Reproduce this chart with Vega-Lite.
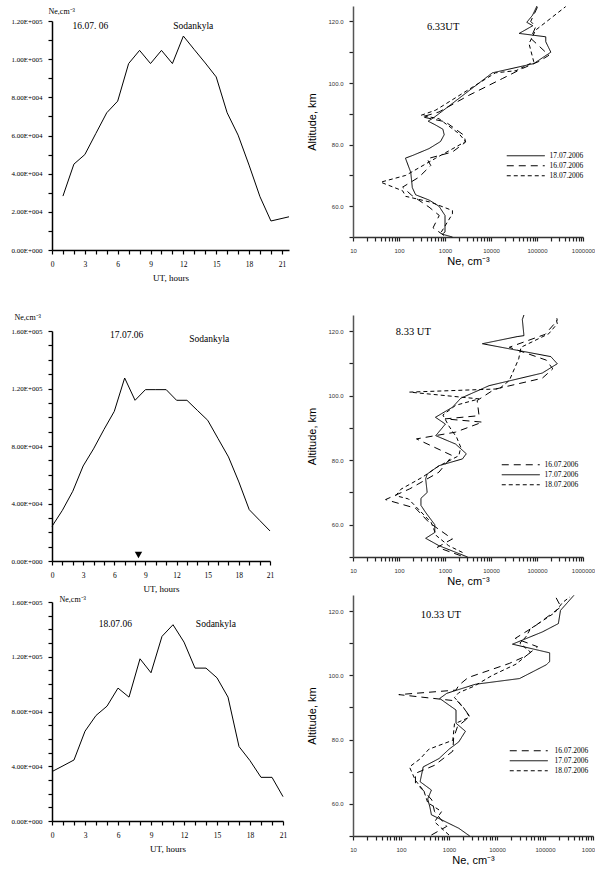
{
"$schema":"https://vega.github.io/schema/vega-lite/v6.json",
"padding":{"left":11,"top":4,"right":0,"bottom":0},
"spacing":15,
"datasets":{
"l16":[{"ut":1,"ne":28250},{"ut":2,"ne":45000},{"ut":3,"ne":50000},{"ut":4,"ne":61000},{"ut":5,"ne":71900},{"ut":6,"ne":78000},{"ut":7,"ne":97700},{"ut":8,"ne":104600},{"ut":9,"ne":97700},{"ut":10,"ne":104600},{"ut":11,"ne":97700},{"ut":12,"ne":112100},{"ut":13,"ne":105000},{"ut":14,"ne":98000},{"ut":15,"ne":90700},{"ut":16,"ne":71900},{"ut":17,"ne":60200},{"ut":18,"ne":44500},{"ut":19,"ne":27900},{"ut":20,"ne":15200},{"ut":21.65,"ne":17400}],
"l17":[{"ut":0,"ne":24100},{"ut":1,"ne":35250},{"ut":2,"ne":48500},{"ut":3,"ne":66100},{"ut":4,"ne":78000},{"ut":5,"ne":91400},{"ut":6,"ne":104100},{"ut":7,"ne":127300},{"ut":8,"ne":111800},{"ut":9,"ne":119200},{"ut":10,"ne":119200},{"ut":11,"ne":119200},{"ut":12,"ne":111800},{"ut":13,"ne":111800},{"ut":14,"ne":104800},{"ut":15,"ne":97900},{"ut":16,"ne":85100},{"ut":17,"ne":72400},{"ut":18,"ne":55000},{"ut":19,"ne":35700},{"ut":20,"ne":28300},{"ut":21,"ne":20900}],
"l18":[{"ut":0,"ne":36100},{"ut":1,"ne":40300},{"ut":2,"ne":44600},{"ut":3,"ne":65600},{"ut":4,"ne":77100},{"ut":5,"ne":83900},{"ut":6,"ne":97100},{"ut":7,"ne":90500},{"ut":8,"ne":118500},{"ut":9,"ne":108300},{"ut":10,"ne":134900},{"ut":11,"ne":143400},{"ut":12,"ne":130700},{"ut":13,"ne":111700},{"ut":14,"ne":111700},{"ut":15,"ne":104600},{"ut":16,"ne":90500},{"ut":17,"ne":54400},{"ut":18,"ne":44100},{"ut":19,"ne":31900},{"ut":20,"ne":31900},{"ut":21,"ne":17800}],
"r1":[
{"d":"17.07.2006","alt":50,"ne":1450},{"d":"17.07.2006","alt":50.9,"ne":870},{"d":"17.07.2006","alt":51.6,"ne":1000},{"d":"17.07.2006","alt":57,"ne":1000},{"d":"17.07.2006","alt":60,"ne":740},{"d":"17.07.2006","alt":62,"ne":450},{"d":"17.07.2006","alt":63.7,"ne":230},{"d":"17.07.2006","alt":66,"ne":195},{"d":"17.07.2006","alt":71,"ne":180},{"d":"17.07.2006","alt":75.6,"ne":138},{"d":"17.07.2006","alt":76.5,"ne":200},{"d":"17.07.2006","alt":78.7,"ne":450},{"d":"17.07.2006","alt":81,"ne":800},{"d":"17.07.2006","alt":83.2,"ne":960},{"d":"17.07.2006","alt":85,"ne":900},{"d":"17.07.2006","alt":86.5,"ne":600},{"d":"17.07.2006","alt":87.6,"ne":430},{"d":"17.07.2006","alt":89,"ne":600},{"d":"17.07.2006","alt":103.3,"ne":10700},{"d":"17.07.2006","alt":106.3,"ne":85000},{"d":"17.07.2006","alt":110,"ne":200000},{"d":"17.07.2006","alt":113.4,"ne":155000},{"d":"17.07.2006","alt":115,"ne":155000},{"d":"17.07.2006","alt":116.1,"ne":41000},{"d":"17.07.2006","alt":118.6,"ne":81000},{"d":"17.07.2006","alt":119.7,"ne":60000},{"d":"17.07.2006","alt":122,"ne":80000},{"d":"17.07.2006","alt":125,"ne":100000},
{"d":"16.07.2006","alt":50.5,"ne":950},{"d":"16.07.2006","alt":53,"ne":550},{"d":"16.07.2006","alt":57,"ne":750},{"d":"16.07.2006","alt":59.7,"ne":450},{"d":"16.07.2006","alt":63.5,"ne":190},{"d":"16.07.2006","alt":66.2,"ne":120},{"d":"16.07.2006","alt":69.4,"ne":270},{"d":"16.07.2006","alt":73.2,"ne":490},{"d":"16.07.2006","alt":75.4,"ne":410},{"d":"16.07.2006","alt":77.6,"ne":1450},{"d":"16.07.2006","alt":80.8,"ne":2800},{"d":"16.07.2006","alt":83,"ne":2600},{"d":"16.07.2006","alt":87.4,"ne":1020},{"d":"16.07.2006","alt":89,"ne":320},{"d":"16.07.2006","alt":90.6,"ne":740},{"d":"16.07.2006","alt":96,"ne":3300},{"d":"16.07.2006","alt":101.5,"ne":18000},{"d":"16.07.2006","alt":104.7,"ne":48000},{"d":"16.07.2006","alt":107,"ne":110000},{"d":"16.07.2006","alt":109,"ne":182000},{"d":"16.07.2006","alt":114.5,"ne":73000},{"d":"16.07.2006","alt":118.3,"ne":94000},{"d":"16.07.2006","alt":120,"ne":73000},{"d":"16.07.2006","alt":125,"ne":105000},
{"d":"18.07.2006","alt":51.6,"ne":830},{"d":"18.07.2006","alt":57.5,"ne":1450},{"d":"18.07.2006","alt":58.6,"ne":1450},{"d":"18.07.2006","alt":61.3,"ne":490},{"d":"18.07.2006","alt":63.2,"ne":140},{"d":"18.07.2006","alt":65,"ne":120},{"d":"18.07.2006","alt":67.8,"ne":40},{"d":"18.07.2006","alt":70,"ne":140},{"d":"18.07.2006","alt":75.6,"ne":630},{"d":"18.07.2006","alt":81,"ne":2800},{"d":"18.07.2006","alt":83.6,"ne":2000},{"d":"18.07.2006","alt":88.4,"ne":740},{"d":"18.07.2006","alt":89.5,"ne":300},{"d":"18.07.2006","alt":91.2,"ne":630},{"d":"18.07.2006","alt":103.3,"ne":12500},{"d":"18.07.2006","alt":104,"ne":35000},{"d":"18.07.2006","alt":106.9,"ne":85000},{"d":"18.07.2006","alt":112.8,"ne":67000},{"d":"18.07.2006","alt":117.2,"ne":94000},{"d":"18.07.2006","alt":124.8,"ne":420000}],
"r2":[
{"d":"17.07.2006","alt":50,"ne":3100},{"d":"17.07.2006","alt":53.5,"ne":740},{"d":"17.07.2006","alt":55.8,"ne":380},{"d":"17.07.2006","alt":57.6,"ne":600},{"d":"17.07.2006","alt":60,"ne":600},{"d":"17.07.2006","alt":63.8,"ne":380},{"d":"17.07.2006","alt":66,"ne":300},{"d":"17.07.2006","alt":68.2,"ne":300},{"d":"17.07.2006","alt":70,"ne":410},{"d":"17.07.2006","alt":74.2,"ne":380},{"d":"17.07.2006","alt":75.7,"ne":410},{"d":"17.07.2006","alt":78.3,"ne":740},{"d":"17.07.2006","alt":80.4,"ne":2400},{"d":"17.07.2006","alt":82,"ne":2900},{"d":"17.07.2006","alt":85,"ne":1700},{"d":"17.07.2006","alt":87.6,"ne":630},{"d":"17.07.2006","alt":91.2,"ne":1020},{"d":"17.07.2006","alt":93.3,"ne":620},{"d":"17.07.2006","alt":96.4,"ne":1450},{"d":"17.07.2006","alt":99.2,"ne":2200},{"d":"17.07.2006","alt":103.1,"ne":9100},{"d":"17.07.2006","alt":107,"ne":130000},{"d":"17.07.2006","alt":109.9,"ne":276000},{"d":"17.07.2006","alt":112.1,"ne":200000},{"d":"17.07.2006","alt":116.1,"ne":6500},{"d":"17.07.2006","alt":118.3,"ne":37000},{"d":"17.07.2006","alt":118.6,"ne":52000},{"d":"17.07.2006","alt":123.6,"ne":48000},{"d":"17.07.2006","alt":125,"ne":52000},
{"d":"16.07.2006","alt":50.4,"ne":2200},{"d":"16.07.2006","alt":53,"ne":680},{"d":"16.07.2006","alt":55.6,"ne":1450},{"d":"16.07.2006","alt":60.7,"ne":450},{"d":"16.07.2006","alt":65.1,"ne":230},{"d":"16.07.2006","alt":67.8,"ne":51},{"d":"16.07.2006","alt":71.1,"ne":170},{"d":"16.07.2006","alt":76.3,"ne":740},{"d":"16.07.2006","alt":81.4,"ne":1450},{"d":"16.07.2006","alt":86.6,"ne":240},{"d":"16.07.2006","alt":88.7,"ne":1700},{"d":"16.07.2006","alt":91.8,"ne":6500},{"d":"16.07.2006","alt":92.8,"ne":1000},{"d":"16.07.2006","alt":93.8,"ne":5500},{"d":"16.07.2006","alt":98.5,"ne":5000},{"d":"16.07.2006","alt":102,"ne":12000},{"d":"16.07.2006","alt":105.4,"ne":130000},{"d":"16.07.2006","alt":108.3,"ne":220000},{"d":"16.07.2006","alt":111,"ne":160000},{"d":"16.07.2006","alt":115,"ne":25000},{"d":"16.07.2006","alt":119,"ne":150000},{"d":"16.07.2006","alt":123.3,"ne":276000},{"d":"16.07.2006","alt":124,"ne":270000},
{"d":"18.07.2006","alt":51.4,"ne":2400},{"d":"18.07.2006","alt":53.5,"ne":1200},{"d":"18.07.2006","alt":56.6,"ne":650},{"d":"18.07.2006","alt":60.7,"ne":500},{"d":"18.07.2006","alt":64,"ne":300},{"d":"18.07.2006","alt":68,"ne":160},{"d":"18.07.2006","alt":69,"ne":85},{"d":"18.07.2006","alt":71,"ne":110},{"d":"18.07.2006","alt":74.7,"ne":320},{"d":"18.07.2006","alt":78,"ne":700},{"d":"18.07.2006","alt":81.4,"ne":2000},{"d":"18.07.2006","alt":84,"ne":2200},{"d":"18.07.2006","alt":87,"ne":1800},{"d":"18.07.2006","alt":90.7,"ne":1200},{"d":"18.07.2006","alt":94,"ne":900},{"d":"18.07.2006","alt":97,"ne":1700},{"d":"18.07.2006","alt":99,"ne":5500},{"d":"18.07.2006","alt":101.1,"ne":170},{"d":"18.07.2006","alt":102.1,"ne":15000},{"d":"18.07.2006","alt":104.7,"ne":25000},{"d":"18.07.2006","alt":111.4,"ne":40000},{"d":"18.07.2006","alt":115,"ne":45000},{"d":"18.07.2006","alt":119.2,"ne":180000},{"d":"18.07.2006","alt":122.3,"ne":276000},{"d":"18.07.2006","alt":123.8,"ne":260000}],
"r3":[
{"d":"17.07.2006","alt":50,"ne":2700},{"d":"17.07.2006","alt":52.4,"ne":1600},{"d":"17.07.2006","alt":56.6,"ne":430},{"d":"17.07.2006","alt":59,"ne":400},{"d":"17.07.2006","alt":61.5,"ne":360},{"d":"17.07.2006","alt":64.3,"ne":430},{"d":"17.07.2006","alt":66.9,"ne":250},{"d":"17.07.2006","alt":71.5,"ne":290},{"d":"17.07.2006","alt":74.1,"ne":620},{"d":"17.07.2006","alt":77,"ne":1000},{"d":"17.07.2006","alt":79.3,"ne":1600},{"d":"17.07.2006","alt":82.6,"ne":2200},{"d":"17.07.2006","alt":85.1,"ne":1400},{"d":"17.07.2006","alt":89.2,"ne":1400},{"d":"17.07.2006","alt":92.8,"ne":640},{"d":"17.07.2006","alt":94.4,"ne":900},{"d":"17.07.2006","alt":97.2,"ne":3500},{"d":"17.07.2006","alt":99,"ne":29500},{"d":"17.07.2006","alt":103.3,"ne":107000},{"d":"17.07.2006","alt":104.3,"ne":125000},{"d":"17.07.2006","alt":107,"ne":125000},{"d":"17.07.2006","alt":109.7,"ne":21000},{"d":"17.07.2006","alt":113.5,"ne":88000},{"d":"17.07.2006","alt":116.1,"ne":190000},{"d":"17.07.2006","alt":120.2,"ne":210000},{"d":"17.07.2006","alt":124.9,"ne":400000},
{"d":"16.07.2006","alt":50.3,"ne":430},{"d":"16.07.2006","alt":53,"ne":900},{"d":"16.07.2006","alt":55.5,"ne":650},{"d":"16.07.2006","alt":57.6,"ne":500},{"d":"16.07.2006","alt":61.2,"ne":440},{"d":"16.07.2006","alt":64,"ne":300},{"d":"16.07.2006","alt":66.5,"ne":200},{"d":"16.07.2006","alt":69.5,"ne":200},{"d":"16.07.2006","alt":72,"ne":500},{"d":"16.07.2006","alt":76.4,"ne":1200},{"d":"16.07.2006","alt":80.6,"ne":1250},{"d":"16.07.2006","alt":84,"ne":1500},{"d":"16.07.2006","alt":87.2,"ne":2700},{"d":"16.07.2006","alt":89.1,"ne":2200},{"d":"16.07.2006","alt":92,"ne":1500},{"d":"16.07.2006","alt":94,"ne":90},{"d":"16.07.2006","alt":95.4,"ne":1400},{"d":"16.07.2006","alt":96.9,"ne":1600},{"d":"16.07.2006","alt":99.3,"ne":2500},{"d":"16.07.2006","alt":103.7,"ne":18000},{"d":"16.07.2006","alt":106,"ne":40000},{"d":"16.07.2006","alt":108.9,"ne":70000},{"d":"16.07.2006","alt":111.5,"ne":24000},{"d":"16.07.2006","alt":115.2,"ne":60000},{"d":"16.07.2006","alt":121.3,"ne":215000},{"d":"16.07.2006","alt":124.9,"ne":160000},
{"d":"18.07.2006","alt":50.3,"ne":1000},{"d":"18.07.2006","alt":54.4,"ne":500},{"d":"18.07.2006","alt":57.6,"ne":700},{"d":"18.07.2006","alt":60.4,"ne":360},{"d":"18.07.2006","alt":64,"ne":300},{"d":"18.07.2006","alt":67.3,"ne":200},{"d":"18.07.2006","alt":71.5,"ne":150},{"d":"18.07.2006","alt":74,"ne":250},{"d":"18.07.2006","alt":77,"ne":380},{"d":"18.07.2006","alt":79.8,"ne":1200},{"d":"18.07.2006","alt":84.9,"ne":1300},{"d":"18.07.2006","alt":87,"ne":2700},{"d":"18.07.2006","alt":90,"ne":2000},{"d":"18.07.2006","alt":93.1,"ne":1300},{"d":"18.07.2006","alt":94.6,"ne":1600},{"d":"18.07.2006","alt":96.6,"ne":3300},{"d":"18.07.2006","alt":100,"ne":8000},{"d":"18.07.2006","alt":103.5,"ne":25000},{"d":"18.07.2006","alt":107.2,"ne":50000},{"d":"18.07.2006","alt":110,"ne":30000},{"d":"18.07.2006","alt":112,"ne":40000},{"d":"18.07.2006","alt":114.5,"ne":50000},{"d":"18.07.2006","alt":119.5,"ne":160000},{"d":"18.07.2006","alt":122.6,"ne":230000},{"d":"18.07.2006","alt":124.4,"ne":330000}]
},
"hconcat":[
{"vconcat":[
 {"width":1,"height":1,"data":{"values":[]},"mark":"point","encoding":{}},
 {"width":237,"height":229,
  "encoding":{
     "x":{"field":"ut","type":"quantitative","scale":{"domain":[0,21.65],"nice":false},"axis":{"values":[0,1,2,3,4,5,6,7,8,9,10,11,12,13,14,15,16,17,18,19,20,21],"labelExpr":"datum.value % 3 == 0 ? datum.label : ''","labelOverlap":false,"title":"UT, hours","labelFont":"Liberation Serif","labelFontSize":7.5,"labelPadding":6,"titleFont":"Liberation Serif","titleFontSize":9,"titlePadding":6}},
     "y":{"field":"ne","type":"quantitative","scale":{"domain":[0,120000],"nice":false},"axis":{"values":[0,10000,20000,30000,40000,50000,60000,70000,80000,90000,100000,110000,120000],"labelExpr":"datum.value % 20000 == 0 ? (datum.value == 0 ? '0.00E+000' : datum.value >= 100000 ? format(datum.value/100000,'.2f') + 'E+005' : format(datum.value/10000,'.2f') + 'E+004') : ''","labelOverlap":false,"labelFont":"Liberation Serif","labelFontSize":7,"labelPadding":6,"title":"Ne,cm⁻³","titleAngle":0,"titleX":-4,"titleY":-10,"titleAlign":"left","titleBaseline":"middle","titleFont":"Liberation Serif","titleFontSize":8}}},
  "layer":[
   {"data":{"name":"l16"},"mark":{"type":"line","color":"black","strokeWidth":1}},
   {"data":{"values":[{"ut":3.5,"ne":117400,"t":"16.07. 06"},{"ut":12.9,"ne":117400,"t":"Sodankyla"}]},"mark":{"type":"text","font":"Liberation Serif","fontSize":9.5,"color":"black"},
    "encoding":{"text":{"field":"t"}}}
  ]},
 {"width":1,"height":53,"data":{"values":[]},"mark":"point","encoding":{}},
 {"width":218,"height":230,
  "encoding":{
     "x":{"field":"ut","type":"quantitative","scale":{"domain":[0,21],"nice":false},"axis":{"values":[0,1,2,3,4,5,6,7,8,9,10,11,12,13,14,15,16,17,18,19,20,21],"labelExpr":"datum.value % 3 == 0 ? datum.label : ''","labelOverlap":false,"title":"UT, hours","labelFont":"Liberation Serif","labelFontSize":7.5,"labelPadding":6,"titleFont":"Liberation Serif","titleFontSize":9,"titlePadding":6}},
     "y":{"field":"ne","type":"quantitative","scale":{"domain":[0,160000],"nice":false},"axis":{"values":[0,10000,20000,30000,40000,50000,60000,70000,80000,90000,100000,110000,120000,130000,140000,150000,160000],"labelExpr":"datum.value % 40000 == 0 ? (datum.value == 0 ? '0.00E+000' : datum.value >= 100000 ? format(datum.value/100000,'.2f') + 'E+005' : format(datum.value/10000,'.2f') + 'E+004') : ''","labelOverlap":false,"labelFont":"Liberation Serif","labelFontSize":7,"labelPadding":6,"title":"Ne,cm⁻³","titleAngle":0,"titleX":-38,"titleY":-14,"titleAlign":"left","titleBaseline":"middle","titleFont":"Liberation Serif","titleFontSize":8}}},
  "layer":[
   {"data":{"name":"l17"},"mark":{"type":"line","color":"black","strokeWidth":1}},
   {"data":{"values":[{"ut":8.33,"ne":4200}]},"mark":{"type":"point","shape":"triangle-down","filled":true,"color":"black","size":55,"opacity":1}},
   {"data":{"values":[{"ut":7.2,"ne":157200,"t":"17.07.06"},{"ut":15.15,"ne":154400,"t":"Sodankyla"}]},"mark":{"type":"text","font":"Liberation Serif","fontSize":9.5,"color":"black"},
    "encoding":{"text":{"field":"t"}}}
  ]},
 {"width":1,"height":13,"data":{"values":[]},"mark":"point","encoding":{}},
 {"width":231,"height":219,
  "encoding":{
     "x":{"field":"ut","type":"quantitative","scale":{"domain":[0,21],"nice":false},"axis":{"values":[0,1,2,3,4,5,6,7,8,9,10,11,12,13,14,15,16,17,18,19,20,21],"labelExpr":"datum.value % 3 == 0 ? datum.label : ''","labelOverlap":false,"title":"UT, hours","labelFont":"Liberation Serif","labelFontSize":7.5,"labelPadding":6,"titleFont":"Liberation Serif","titleFontSize":9,"titlePadding":6}},
     "y":{"field":"ne","type":"quantitative","scale":{"domain":[0,160000],"nice":false},"axis":{"values":[0,10000,20000,30000,40000,50000,60000,70000,80000,90000,100000,110000,120000,130000,140000,150000,160000],"labelExpr":"datum.value % 40000 == 0 ? (datum.value == 0 ? '0.00E+000' : datum.value >= 100000 ? format(datum.value/100000,'.2f') + 'E+005' : format(datum.value/10000,'.2f') + 'E+004') : ''","labelOverlap":false,"labelFont":"Liberation Serif","labelFontSize":7,"labelPadding":6,"title":"Ne,cm⁻³","titleAngle":0,"titleX":7,"titleY":-3,"titleAlign":"left","titleBaseline":"middle","titleFont":"Liberation Serif","titleFontSize":8}}},
  "layer":[
   {"data":{"name":"l18"},"mark":{"type":"line","color":"black","strokeWidth":1}},
   {"data":{"values":[{"ut":5.75,"ne":143900,"t":"18.07.06"},{"ut":14.9,"ne":143900,"t":"Sodankyla"}]},"mark":{"type":"text","font":"Liberation Serif","fontSize":9.5,"color":"black"},
    "encoding":{"text":{"field":"t"}}}
  ]}
],"spacing":14,"bounds":"flush","align":"each"},
{"vconcat":[
 {"width":230,"height":231,
  "encoding":{
     "x":{"field":"ne","type":"quantitative","scale":{"type":"log","domain":[10,1000000],"nice":false},"axis":{"values":[10,20,30,40,50,60,70,80,90,100,200,300,400,500,600,700,800,900,1000,2000,3000,4000,5000,6000,7000,8000,9000,10000,20000,30000,40000,50000,60000,70000,80000,90000,100000,200000,300000,400000,500000,600000,700000,800000,900000,1000000],"labelExpr":"indexof([10,100,1000,10000,100000,1000000], datum.value) >= 0 ? format(datum.value,'d') : ''","labelOverlap":false,"domainColor":"#333","domainWidth":1.5,"tickColor":"#222","title":"Ne, cm⁻³","labelFont":"Liberation Sans","labelFontSize":6,"labelColor":"#333","labelPadding":6,"titleFont":"Liberation Sans","titleFontSize":11,"titlePadding":2}},
     "y":{"field":"alt","type":"quantitative","scale":{"domain":[50,125],"nice":false,"zero":false},"axis":{"values":[50,60,70,80,90,100,110,120],"labelExpr":"datum.value % 20 == 0 ? format(datum.value,'.1f') : ''","labelOverlap":false,"domainColor":"#555","domainWidth":1.5,"tickColor":"#222","title":"Altitude, km","labelFont":"Liberation Sans","labelFontSize":6,"labelColor":"#333","labelPadding":6,"titleFont":"Liberation Sans","titleFontSize":11,"titlePadding":10}}},
  "layer":[
   {"data":{"name":"r1"},"mark":{"type":"line","color":"black","strokeWidth":1},
    "encoding":{
     "order":{"field":"alt","type":"quantitative"},
     "strokeDash":{"field":"d","type":"nominal","scale":{"domain":["17.07.2006","16.07.2006","18.07.2006"],"range":[[1,0],[7,5],[4,3]]},"legend":{"orient":"none","legendX":169,"legendY":146}}}},
   {"data":{"values":[{"ne":910,"alt":118.3,"t":"6.33UT"}]},"mark":{"type":"text","font":"Liberation Serif","fontSize":10.5,"color":"black"},
    "encoding":{"text":{"field":"t"}}}
  ]},
 {"width":1,"height":50,"data":{"values":[]},"mark":"point","encoding":{}},
 {"width":230,"height":242,
  "encoding":{
     "x":{"field":"ne","type":"quantitative","scale":{"type":"log","domain":[10,1000000],"nice":false},"axis":{"values":[10,20,30,40,50,60,70,80,90,100,200,300,400,500,600,700,800,900,1000,2000,3000,4000,5000,6000,7000,8000,9000,10000,20000,30000,40000,50000,60000,70000,80000,90000,100000,200000,300000,400000,500000,600000,700000,800000,900000,1000000],"labelExpr":"indexof([10,100,1000,10000,100000,1000000], datum.value) >= 0 ? format(datum.value,'d') : ''","labelOverlap":false,"domainColor":"#333","domainWidth":1.5,"tickColor":"#222","title":"Ne, cm⁻³","labelFont":"Liberation Sans","labelFontSize":6,"labelColor":"#333","labelPadding":6,"titleFont":"Liberation Sans","titleFontSize":11,"titlePadding":2}},
     "y":{"field":"alt","type":"quantitative","scale":{"domain":[50,125],"nice":false,"zero":false},"axis":{"values":[50,60,70,80,90,100,110,120],"labelExpr":"datum.value % 20 == 0 ? format(datum.value,'.1f') : ''","labelOverlap":false,"domainColor":"#555","domainWidth":1.5,"tickColor":"#222","title":"Altitude, km","labelFont":"Liberation Sans","labelFontSize":6,"labelColor":"#333","labelPadding":6,"titleFont":"Liberation Sans","titleFontSize":11,"titlePadding":10}}},
  "layer":[
   {"data":{"name":"r2"},"mark":{"type":"line","color":"black","strokeWidth":1},
    "encoding":{
     "order":{"field":"alt","type":"quantitative"},
     "strokeDash":{"field":"d","type":"nominal","scale":{"domain":["16.07.2006","17.07.2006","18.07.2006"],"range":[[7,5],[1,0],[4,3]]},"legend":{"orient":"none","legendX":164,"legendY":146}}}},
   {"data":{"values":[{"ne":205,"alt":119.7,"t":"8.33 UT"}]},"mark":{"type":"text","font":"Liberation Serif","fontSize":10.5,"color":"black"},
    "encoding":{"text":{"field":"t"}}}
  ]},
 {"width":1,"height":10,"data":{"values":[]},"mark":"point","encoding":{}},
 {"width":240,"height":241,
  "encoding":{
     "x":{"field":"ne","type":"quantitative","scale":{"type":"log","domain":[10,1000000],"nice":false},"axis":{"values":[10,20,30,40,50,60,70,80,90,100,200,300,400,500,600,700,800,900,1000,2000,3000,4000,5000,6000,7000,8000,9000,10000,20000,30000,40000,50000,60000,70000,80000,90000,100000,200000,300000,400000,500000,600000,700000,800000,900000,1000000],"labelExpr":"indexof([10,100,1000,10000,100000,1000000], datum.value) >= 0 ? format(datum.value,'d') : ''","labelOverlap":false,"domainColor":"#333","domainWidth":1.5,"tickColor":"#222","title":"Ne, cm⁻³","labelFont":"Liberation Sans","labelFontSize":6,"labelColor":"#333","labelPadding":6,"titleFont":"Liberation Sans","titleFontSize":11,"titlePadding":2}},
     "y":{"field":"alt","type":"quantitative","scale":{"domain":[50,125],"nice":false,"zero":false},"axis":{"values":[50,60,70,80,90,100,110,120],"labelExpr":"datum.value % 20 == 0 ? format(datum.value,'.1f') : ''","labelOverlap":false,"domainColor":"#555","domainWidth":1.5,"tickColor":"#222","title":"Altitude, km","labelFont":"Liberation Sans","labelFontSize":6,"labelColor":"#333","labelPadding":6,"titleFont":"Liberation Sans","titleFontSize":11,"titlePadding":10}}},
  "layer":[
   {"data":{"name":"r3"},"mark":{"type":"line","color":"black","strokeWidth":1},
    "encoding":{
     "order":{"field":"alt","type":"quantitative"},
     "strokeDash":{"field":"d","type":"nominal","scale":{"domain":["16.07.2006","17.07.2006","18.07.2006"],"range":[[7,5],[1,0],[4,3]]},"legend":{"orient":"none","legendX":172,"legendY":152,"labelOffset":22}}}},
   {"data":{"values":[{"ne":675,"alt":118.8,"t":"10.33 UT"}]},"mark":{"type":"text","font":"Liberation Serif","fontSize":10.5,"color":"black"},
    "encoding":{"text":{"field":"t"}}}
  ]}
],"spacing":14,"bounds":"flush","align":"each","resolve":{"scale":{"strokeDash":"independent"},"legend":{"strokeDash":"independent"}}}
],
"resolve":{"scale":{"strokeDash":"independent"},"legend":{"strokeDash":"independent"}},
"config":{
 "view":{"stroke":null},
 "axis":{"grid":false,"domainColor":"black","domainWidth":1.5,"tickColor":"black","tickWidth":1.2,"labelColor":"black","titleColor":"black","titleFontWeight":"normal","labelOverlap":false,"labelFlush":false,"labelBound":false,"tickSize":4},
 "legend":{"title":null,"symbolType":"M-19,0H19","symbolSize":4,"symbolStrokeColor":"black","symbolStrokeWidth":1,"labelFont":"Liberation Serif","labelFontSize":7.5,"labelColor":"black","labelOffset":20,"rowPadding":1,"padding":0}
}
}
